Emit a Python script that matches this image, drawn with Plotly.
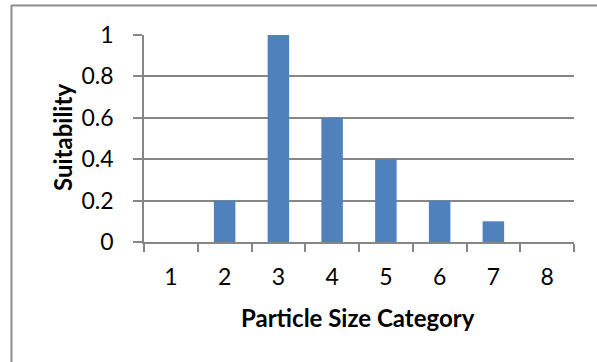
import plotly.graph_objects as go

categories = ["1", "2", "3", "4", "5", "6", "7", "8"]
suitability = [0, 0.2, 1, 0.6, 0.4, 0.2, 0.1, 0]
y_ticks = [0, 0.2, 0.4, 0.6, 0.8, 1]
y_tick_text = ["0", "0.2", "0.4", "0.6", "0.8", "1"]

W, H = 597, 362
ML, MR, MT, MB = 144, 23, 35, 120
PW, PH = W - ML - MR, H - MT - MB

FONT = "Lato, Carlito, Calibri, sans-serif"
AXIS_GREY = "#868686"
BORDER_GREY = "#8c8c8c"


def px_x(x):
    return (x - ML) / PW


def px_y(y):
    return 1 - (y - MT) / PH


fig = go.Figure(
    go.Bar(
        x=categories,
        y=suitability,
        marker=dict(color="#4F81BD", line=dict(width=0)),
        width=0.4,
    )
)

fig.update_layout(
    width=W,
    height=H,
    margin=dict(l=ML, r=MR, t=MT, b=MB),
    paper_bgcolor="white",
    plot_bgcolor="white",
    showlegend=False,
    font=dict(family=FONT, color="black"),
    xaxis=dict(
        type="category",
        showgrid=False,
        showline=True,
        linecolor=AXIS_GREY,
        linewidth=1.5,
        ticks="outside",
        tickson="boundaries",
        ticklen=8,
        tickwidth=1.5,
        tickcolor=AXIS_GREY,
        tickfont=dict(size=23),
        ticklabelstandoff=14,
    ),
    yaxis=dict(
        range=[0, 1],
        tickvals=y_ticks,
        ticktext=y_tick_text,
        showgrid=True,
        gridcolor=AXIS_GREY,
        gridwidth=1.5,
        showline=True,
        linecolor=AXIS_GREY,
        linewidth=1.5,
        ticks="outside",
        ticklen=9,
        tickwidth=1.5,
        tickcolor=AXIS_GREY,
        tickfont=dict(size=23),
        ticklabelstandoff=15,
        zeroline=False,
    ),
    annotations=[
        dict(
            text="<b>Particle Size Category</b>",
            xref="paper", yref="paper",
            x=px_x(358), y=px_y(317),
            showarrow=False, xanchor="center", yanchor="middle",
            font=dict(size=24, family=FONT),
        ),
        dict(
            text="<b>Suitability</b>",
            xref="paper", yref="paper",
            x=px_x(62), y=px_y(138),
            showarrow=False, xanchor="center", yanchor="middle",
            textangle=-90,
            font=dict(size=24, family=FONT),
        ),
    ],
    shapes=[
        dict(type="line", xref="paper", yref="paper",
             x0=px_x(11), x1=px_x(W + 5), y0=px_y(5.5), y1=px_y(5.5),
             line=dict(color=BORDER_GREY, width=2)),
        dict(type="line", xref="paper", yref="paper",
             x0=px_x(11.5), x1=px_x(11.5), y0=px_y(5), y1=px_y(H + 5),
             line=dict(color=BORDER_GREY, width=2)),
    ],
)

fig.write_html("out.html")
